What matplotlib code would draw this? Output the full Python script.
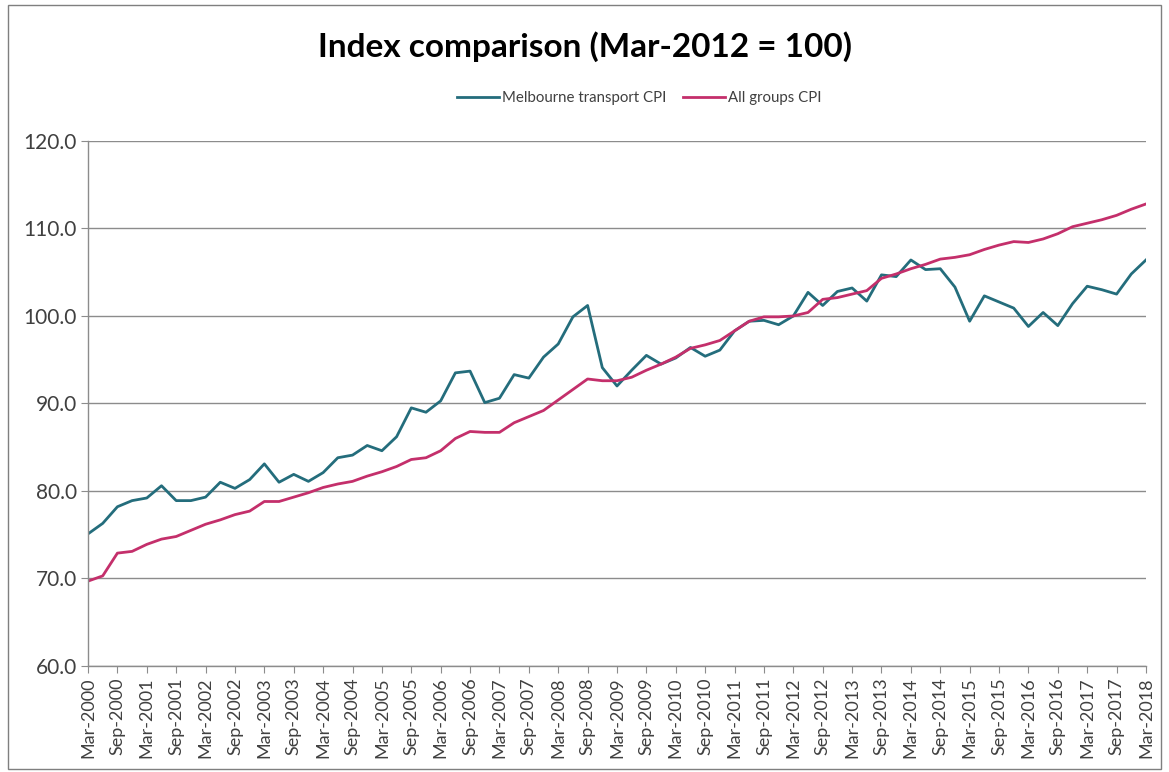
import numpy as np
import pandas as pd
from matplotlib import pyplot as plt
from matplotlib.patches import Rectangle

plt.rcParams['font.family'] = ['Lato', 'DejaVu Sans']

# quarterly, Mar-2000 .. Mar-2018
quarters = [p.strftime('%b-%Y') for p in pd.period_range('2000Q1', '2018Q1', freq='Q')]

melb_transport = [75.1, 76.3, 78.2, 78.9, 79.2, 80.6, 78.9, 78.9, 79.3, 81.0, 80.3, 81.3,
                  83.1, 81.0, 81.9, 81.1, 82.1, 83.8, 84.1, 85.2, 84.6, 86.2, 89.5, 89.0,
                  90.3, 93.5, 93.7, 90.1, 90.6, 93.3, 92.9, 95.3, 96.8, 99.9, 101.2, 94.1,
                  92.0, 93.8, 95.5, 94.5, 95.2, 96.4, 95.4, 96.1, 98.3, 99.4, 99.5, 99.0,
                  100.0, 102.7, 101.2, 102.8, 103.2, 101.7, 104.7, 104.5, 106.4, 105.3, 105.4, 103.3,
                  99.4, 102.3, 101.6, 100.9, 98.8, 100.4, 98.9, 101.4, 103.4, 103.0, 102.5, 104.8, 106.4]

all_groups = [69.7, 70.3, 72.9, 73.1, 73.9, 74.5, 74.8, 75.5, 76.2, 76.7, 77.3, 77.7,
              78.8, 78.8, 79.3, 79.8, 80.4, 80.8, 81.1, 81.7, 82.2, 82.8, 83.6, 83.8,
              84.6, 86.0, 86.8, 86.7, 86.7, 87.8, 88.5, 89.2, 90.4, 91.6, 92.8, 92.6,
              92.6, 93.0, 93.8, 94.5, 95.3, 96.3, 96.7, 97.2, 98.3, 99.4, 99.9, 99.9,
              100.0, 100.4, 101.9, 102.1, 102.5, 102.9, 104.3, 104.8, 105.4, 105.9, 106.5, 106.7,
              107.0, 107.6, 108.1, 108.5, 108.4, 108.8, 109.4, 110.2, 110.6, 111.0, 111.5, 112.2, 112.8]

y_ticks = [60, 70, 80, 90, 100, 110, 120]

text_col = '#404040'
grid_col = '#8c8c8c'

fig = plt.figure(figsize=(11.69, 7.72), dpi=100)
ax = fig.add_axes([0.0753, 0.1373, 0.905, 0.6801])

x = np.arange(len(quarters))
ax.plot(x, melb_transport, color='#246d7c', lw=2.0, label='Melbourne transport CPI')
ax.plot(x, all_groups, color='#c42f6b', lw=2.0, label='All groups CPI')

ax.set_xlim(0, len(quarters) - 1)
ax.set_ylim(60, 120)
ax.set_yticks(y_ticks)
ax.set_yticklabels(['%.1f' % v for v in y_ticks], fontsize=15, color=text_col)
ax.set_xticks(x[::2])
ax.set_xticklabels(quarters[::2], rotation=90, fontsize=13, color=text_col)
ax.tick_params(axis='both', direction='out', length=5, color=grid_col, pad=3)

ax.grid(axis='y', color=grid_col, lw=1)
ax.set_axisbelow(True)
for s in ['top', 'right']:
    ax.spines[s].set_visible(False)
for s in ['left', 'bottom']:
    ax.spines[s].set_color(grid_col)
    ax.spines[s].set_linewidth(1)

fig.text(0.5, 0.94, 'Index comparison (Mar-2012 = 100)', ha='center', va='center',
         fontsize=24, fontweight='bold', color='black')
fig.legend(loc='center', bbox_to_anchor=(0.547, 0.873), ncol=2, frameon=False,
           fontsize=10.8, handlelength=2.8, handletextpad=0.2, columnspacing=1.1,
           labelcolor=text_col)

fig.patches.append(Rectangle((0.007, 0.004), 0.986, 0.99, transform=fig.transFigure,
                             fill=False, edgecolor='#7f7f7f', lw=1))

plt.savefig('out.png', dpi=100)
